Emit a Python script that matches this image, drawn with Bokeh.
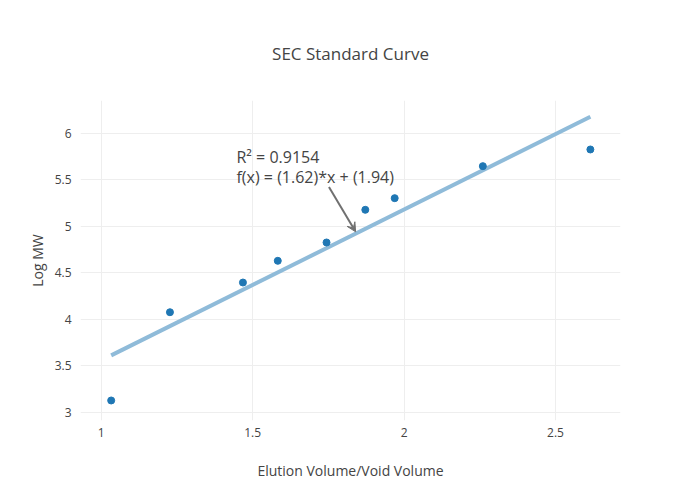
from bokeh.plotting import figure
from bokeh.models import Range1d, FixedTicker, Arrow, VeeHead
from bokeh.core.properties import value
from bokeh.embed import file_html
from bokeh.resources import INLINE

# data
elution_ratio = [1.033, 1.227, 1.468, 1.583, 1.744, 1.872, 1.969, 2.260, 2.615]
log_mw = [3.129, 4.077, 4.396, 4.629, 4.826, 5.177, 5.302, 5.646, 5.825]
fit_slope = 1.62
fit_intercept = 1.94
r_squared = 0.9154
x_ticks = [1, 1.5, 2, 2.5]
x_tick_labels = ["1", "1.5", "2", "2.5"]
y_ticks = [3, 3.5, 4, 4.5, 5, 5.5, 6]
y_tick_labels = ["3", "3.5", "4", "4.5", "5", "5.5", "6"]

FONT = "Open Sans"
TXT = "#444444"

p = figure(width=684, height=484, output_backend="svg", toolbar_location=None,
           x_range=Range1d(0.9317, 2.7145), y_range=Range1d(2.914, 6.351),
           min_border_left=80, min_border_right=64, min_border_top=100, min_border_bottom=64)
p.outline_line_color = None
p.background_fill_color = "white"

p.title.text = "SEC Standard Curve"
p.title.align = "center"
p.title.text_font = FONT
p.title.text_font_size = "17px"
p.title.text_font_style = "normal"
p.title.text_color = TXT
p.title.standoff = 72

for ax, ticks, labels in ((p.xaxis[0], x_ticks, x_tick_labels), (p.yaxis[0], y_ticks, y_tick_labels)):
    ax.ticker = FixedTicker(ticks=ticks)
    ax.major_label_overrides = {t: l for t, l in zip(ticks, labels)}
    ax.axis_line_color = None
    ax.major_tick_line_color = None
    ax.minor_tick_line_color = None
    ax.major_label_text_font = FONT
    ax.major_label_text_font_size = "12px"
    ax.major_label_text_color = TXT
    ax.axis_label_text_font = FONT
    ax.axis_label_text_font_size = "14px"
    ax.axis_label_text_font_style = "normal"
    ax.axis_label_text_color = TXT

p.xaxis.axis_label = "Elution Volume/Void Volume"
p.yaxis.axis_label = "Log MW"
p.xaxis.major_label_standoff = 1
p.xaxis.axis_label_standoff = 21
p.yaxis.major_label_standoff = 3
p.yaxis.axis_label_standoff = 5

p.grid.grid_line_color = "#eeeeee"
p.grid.grid_line_width = 1
p.xgrid.ticker = FixedTicker(ticks=x_ticks)
p.ygrid.ticker = FixedTicker(ticks=y_ticks)

# fit line
x0, x1 = min(elution_ratio), max(elution_ratio)
p.line([x0, x1], [fit_slope * x0 + fit_intercept, fit_slope * x1 + fit_intercept],
       line_color="#8fbbd9", line_width=4)

# data points
p.scatter(elution_ratio, log_mw, size=7, fill_color="#1f77b4", line_color="#1f77b4")

# annotation
head_x = 1.84
head_y = fit_slope * head_x + fit_intercept + 0.02
p.add_layout(Arrow(x_start=head_x - 0.088, y_start=head_y + 0.48, x_end=head_x, y_end=head_y,
                   line_color="#707070", line_width=2,
                   end=VeeHead(size=9, line_color="#707070", fill_color="#707070", line_width=1)))
p.text(x=[1.4467, 1.4467], y=[5.742, 5.530],
       text=["R\u00b2 = %.4f" % r_squared,
             "f(x) = (%.2f)*x + (%.2f)" % (fit_slope, fit_intercept)],
       text_font=value(FONT), text_font_size="16px", text_color=TXT,
       text_baseline="alphabetic", text_align="left")

open("out.html", "w").write(file_html(p, INLINE))
